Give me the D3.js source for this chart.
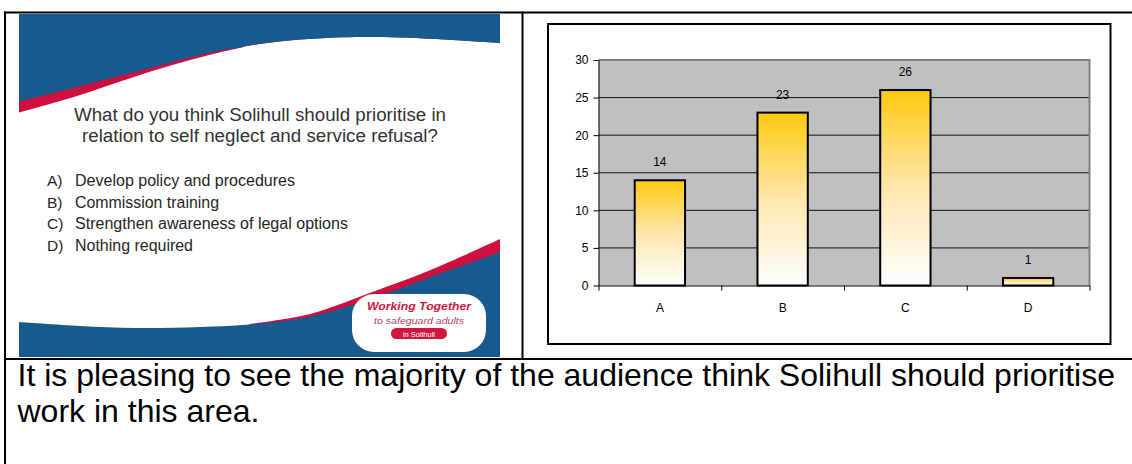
<!DOCTYPE html>
<html><head><meta charset="utf-8">
<script src="https://cdn.jsdelivr.net/npm/d3@7"></script>
<style>html,body{margin:0;padding:0;background:#fff;} svg{display:block;font-family:"Liberation Sans",Arial,sans-serif;}</style>
</head><body>
<svg id="c" width="1132" height="464"></svg>
<script>
// ---- data ----
const categories = ["A", "B", "C", "D"];
const values = [14, 23, 26, 1];
const yTicks = [0, 5, 10, 15, 20, 25, 30];
const question = ["What do you think Solihull should prioritise in", "relation to self neglect and service refusal?"];
const optionKeys = ["A)", "B)", "C)", "D)"];
const optionTexts = ["Develop policy and procedures", "Commission training", "Strengthen awareness of legal options", "Nothing required"];
const caption = ["It is pleasing to see the majority of the audience think Solihull should prioritise", "work in this area."];
const logoLines = ["Working Together", "to safeguard adults", "in Solihull"];

const svg = d3.select("#c");
const defs = svg.append("defs");

// ---- slide (left cell) ----
const BLUE = "#175b8e", RED = "#cf0f3d";
const slide = svg.append("g");
slide.append("rect").attr("x", 19).attr("y", 14).attr("width", 481).attr("height", 343).attr("fill", "#fff");
const cr = d3.line().curve(d3.curveCatmullRom.alpha(0.5));
const blueTopEdge = [[19,101.7],[77,87],[143,70],[210,52.7],[243,46.7],[277,41.7],[343,37.3],[400,37.5],[500,43]];
const redTopEdge = [[19,112.5],[77,96],[143,74],[210,54.8],[243,47.2]];
slide.append("path").attr("fill", RED)
  .attr("d", "M19,14H500V43" + cr(blueTopEdge.slice().reverse().filter(p=>p[0]>=243)).replace(/^M/, "L") + cr(redTopEdge.slice().reverse()).replace(/^M/, "L") + "Z");
slide.append("path").attr("fill", BLUE)
  .attr("d", "M19,14H500V43" + cr(blueTopEdge.slice().reverse()).replace(/^M/, "L") + "Z");
const redBotEdge = [[250,324],[310,314],[367,294],[433,269],[500,239]];
const blueBotEdge = [[19,322],[80,326],[135,328],[200,327],[260,323.5],[310,316.5],[367,300],[433,276],[500,252]];
slide.append("path").attr("fill", RED)
  .attr("d", cr(redBotEdge) + "L500,357L250,357Z");
slide.append("path").attr("fill", BLUE)
  .attr("d", cr(blueBotEdge) + "L500,357L19,357Z");

// question text
slide.selectAll("text.q").data(question).join("text").attr("class", "q")
  .attr("x", 260).attr("y", (d, i) => 121 + i * 20.5)
  .attr("text-anchor", "middle").attr("font-size", 18).attr("fill", "#333")
  .attr("textLength", (d, i) => [372, 356][i]).attr("lengthAdjust", "spacingAndGlyphs")
  .text(d => d);
slide.selectAll("text.ok").data(optionKeys).join("text").attr("class", "ok")
  .attr("x", 47).attr("y", (d, i) => 186 + i * 21.7)
  .attr("font-size", 15.5).attr("fill", "#262626").text(d => d);
slide.selectAll("text.ot").data(optionTexts).join("text").attr("class", "ot")
  .attr("x", 75).attr("y", (d, i) => 186 + i * 21.7)
  .attr("font-size", 16).attr("fill", "#262626")
  .attr("textLength", (d, i) => [220, 144, 273, 118][i]).attr("lengthAdjust", "spacingAndGlyphs")
  .text(d => d);

// logo
slide.append("rect").attr("x", 352).attr("y", 294).attr("width", 134).attr("height", 58)
  .attr("rx", 22).attr("ry", 22).attr("fill", "#fff");
slide.append("text").attr("x", 419).attr("y", 310).attr("text-anchor", "middle")
  .attr("font-size", 11.5).attr("font-weight", "bold").attr("font-style", "italic").attr("fill", "#d0163f")
  .attr("textLength", 104).attr("lengthAdjust", "spacingAndGlyphs").text(logoLines[0]);
slide.append("text").attr("x", 419).attr("y", 323.5).attr("text-anchor", "middle")
  .attr("font-size", 9).attr("font-style", "italic").attr("fill", "#b3405e")
  .attr("textLength", 90).attr("lengthAdjust", "spacingAndGlyphs").text(logoLines[1]);
slide.append("rect").attr("x", 391).attr("y", 328).attr("width", 56).attr("height", 11)
  .attr("rx", 5.5).attr("fill", "#d0163f");
slide.append("text").attr("x", 419).attr("y", 336.5).attr("text-anchor", "middle")
  .attr("font-size", 7.5).attr("fill", "#fff").text(logoLines[2]);

// ---- chart (right cell) ----
const grad = defs.append("linearGradient").attr("id", "g").attr("x1", 0).attr("y1", 0).attr("x2", 0).attr("y2", 1);
grad.append("stop").attr("offset", 0).attr("stop-color", "#ffc90f");
grad.append("stop").attr("offset", 0.5).attr("stop-color", "#ffe6ad");
grad.append("stop").attr("offset", 1).attr("stop-color", "#ffffff");

const L = 598.5, R = 1089.5, T = 60, B = 285.5;
const x = d3.scaleBand().domain(categories).range([L, R]).padding(0);
const y = d3.scaleLinear().domain([0, 30]).range([B, T]);
const chart = svg.append("g");
chart.append("rect").attr("x", 548).attr("y", 24).attr("width", 562.5).attr("height", 320)
  .attr("fill", "#fff").attr("stroke", "#000").attr("stroke-width", 2);
chart.append("rect").attr("x", L).attr("y", T).attr("width", R - L).attr("height", B - T).attr("fill", "#c0c0c0");
chart.selectAll("line.grid").data(yTicks.filter(v => v > 0 && v < 30)).join("line").attr("class", "grid")
  .attr("x1", L).attr("x2", R).attr("y1", d => y(d)).attr("y2", d => y(d))
  .attr("stroke", "#111").attr("stroke-width", 1);
chart.append("path").attr("d", `M${L},${T}H${R}V${B}`).attr("fill", "none").attr("stroke", "#808080").attr("stroke-width", 2);
const bw = x.bandwidth() * 0.41;
chart.selectAll("rect.bar").data(values).join("rect").attr("class", "bar")
  .attr("x", (d, i) => x(categories[i]) + (x.bandwidth() - bw) / 2)
  .attr("y", d => y(d)).attr("width", bw).attr("height", d => y(0) - y(d))
  .attr("fill", "url(#g)").attr("stroke", "#000").attr("stroke-width", 2);
chart.selectAll("text.val").data(values).join("text").attr("class", "val")
  .attr("x", (d, i) => x(categories[i]) + x.bandwidth() / 2).attr("y", d => y(d) - 14)
  .attr("text-anchor", "middle").attr("font-size", 12).attr("fill", "#000").text(d => d);
const ya = chart.append("g").attr("transform", `translate(${L},0)`)
  .call(d3.axisLeft(y).tickValues(yTicks).tickSize(5).tickPadding(5).tickSizeOuter(0));
ya.select(".domain").attr("stroke", "#000");
ya.selectAll("line").attr("stroke", "#000");
ya.selectAll("text").attr("font-size", 12).attr("font-family", "Liberation Sans, Arial, sans-serif").attr("fill", "#000");
const xa = chart.append("g").attr("transform", `translate(0,${B})`)
  .call(d3.axisBottom(x).tickSize(0).tickPadding(18).tickSizeOuter(0));
xa.select(".domain").attr("stroke", "#000");
xa.selectAll("text").attr("font-size", 12).attr("font-family", "Liberation Sans, Arial, sans-serif").attr("fill", "#000");
const xb = d3.scaleLinear().domain([0, categories.length]).range([L, R]);
const xt = chart.append("g").attr("transform", `translate(0,${B})`)
  .call(d3.axisBottom(xb).ticks(categories.length).tickSize(5).tickFormat("").tickSizeOuter(0));
xt.select(".domain").remove();
xt.selectAll("line").attr("stroke", "#000");

// ---- caption (bottom row) ----
svg.selectAll("text.cap").data(caption).join("text").attr("class", "cap")
  .attr("x", 17.5).attr("y", (d, i) => 386 + i * 35.5)
  .attr("font-size", 32).attr("fill", "#000")
  .text(d => d);

// ---- table borders ----
const tb = svg.append("g").attr("stroke", "#000").attr("stroke-width", 2);
tb.append("line").attr("x1", 4).attr("x2", 1132).attr("y1", 12.5).attr("y2", 12.5);
tb.append("line").attr("x1", 5).attr("x2", 5).attr("y1", 11.5).attr("y2", 464);
tb.append("line").attr("x1", 522.5).attr("x2", 522.5).attr("y1", 11.5).attr("y2", 359);
tb.append("line").attr("x1", 4).attr("x2", 1132).attr("y1", 359).attr("y2", 359);
</script>
</body></html>
